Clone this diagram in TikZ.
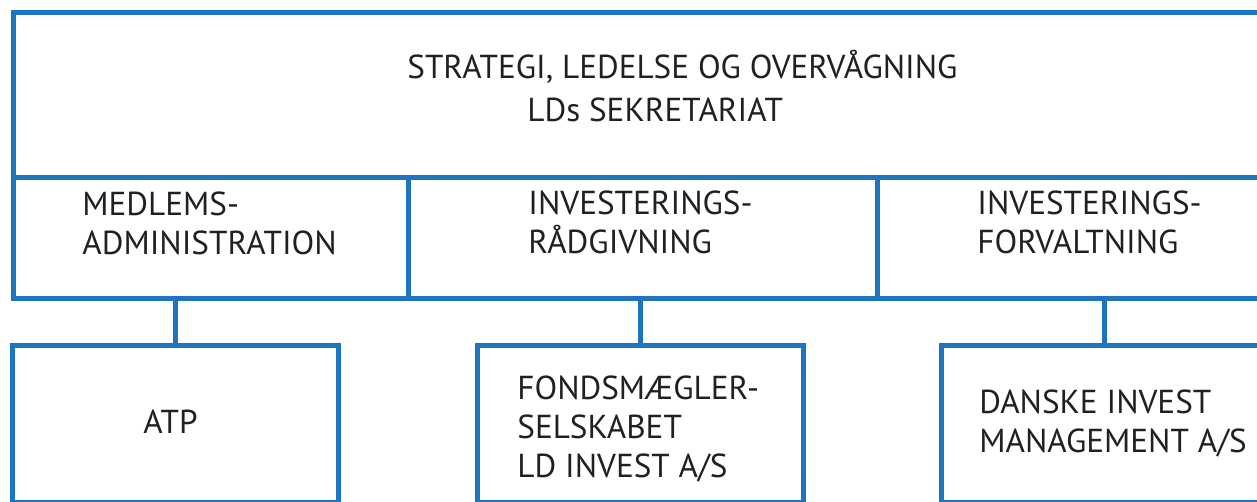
\documentclass[tikz,border=0pt]{standalone}
\usepackage{fontspec}
\setmainfont{PT Sans}
\usetikzlibrary{positioning}
\definecolor{ldblue}{RGB}{30,116,190}
\definecolor{ldtext}{RGB}{35,31,32}
\tikzset{
    unitbox/.style = {rectangle, draw=ldblue, line width=2.5pt, anchor=north west, inner sep=0pt, minimum height=60pt},
    unittext/.style = {anchor=base west, align=left, inner sep=0pt, text=ldtext, font=\fontsize{16.6}{19.5}\selectfont},
    link/.style = {draw=ldblue, line width=2.5pt}
}
\begin{document}
\begin{tikzpicture}[x=0.5pt,y=-0.5pt]
  \useasboundingbox (0,0) rectangle (1257,502);
  \clip (0,0) rectangle (1257,502);
  % top row
  \node[unitbox, minimum width=627.25pt, minimum height=82.5pt] (ledelse) at (10.5,10.5) {};
  % middle row
  \node[unitbox, minimum width=197.5pt] (medlem) at (10.5,175.5) {};
  \node[unitbox, minimum width=234.5pt] (raad) at (405.5,175.5) {};
  \node[unitbox, minimum width=195.25pt] (forv) at (874.5,175.5) {};
  % bottom row
  \node[unitbox, minimum width=163pt, minimum height=78.5pt] (atp) at (9.5,342.5) {};
  \node[unitbox, minimum width=162.75pt, minimum height=78.5pt] (fonds) at (475,342.5) {};
  \node[unitbox, minimum width=163pt, minimum height=78.5pt] (danske) at (938.5,342.5) {};
  % links
  \draw[link] (atp.north) -- (atp.north |- medlem.south);
  \draw[link] (fonds.north) -- (fonds.north |- raad.south);
  \draw[link] (danske.north) -- (danske.north |- forv.south);
  % texts (anchored at the baseline of the last line)
  \node[unittext] (tledelse) at (407,122) {STRATEGI, LEDELSE OG OVERVÅGNING\\[2pt]\hspace*{60pt}LDs SEKRETARIAT};
  \node[unittext] (tmedlem) at (82,255) {MEDLEMS-\\ADMINISTRATION};
  \node[unittext] (traad) at (528,254) {INVESTERINGS-\\RÅDGIVNING};
  \node[unittext] (tforv) at (977,254) {INVESTERINGS-\\FORVALTNING};
  \node[unittext] (tatp) at (143,433) {ATP};
  \node[unittext] (tfonds) at (517,477) {FONDSMÆGLER-\\SELSKABET\\LD INVEST A/S};
  \node[unittext] (tdanske) at (979,452) {DANSKE INVEST\\MANAGEMENT A/S};
\end{tikzpicture}
\end{document}
